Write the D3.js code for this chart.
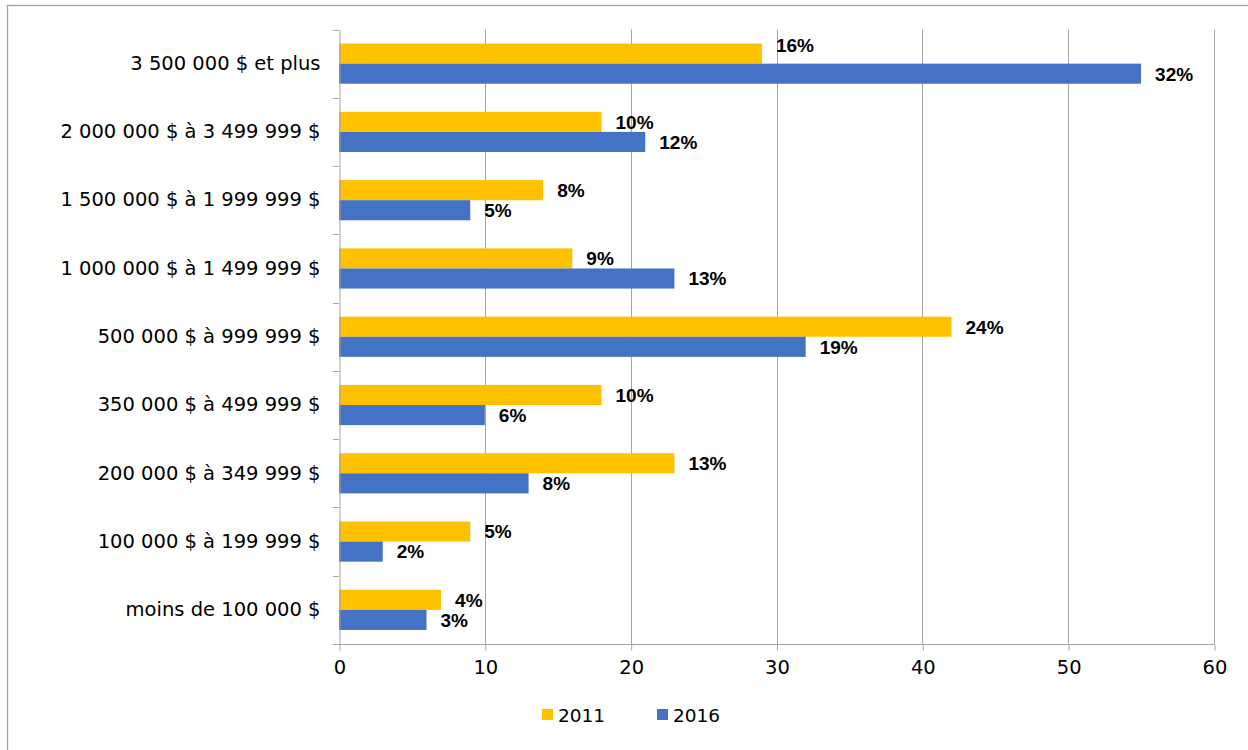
<!DOCTYPE html>
<html><head><meta charset="utf-8">
<script src="https://cdn.jsdelivr.net/npm/d3@7"></script>
<style>body{margin:0;background:#fff}</style>
</head><body>
<svg id="c" width="1248" height="750"></svg>
<script>
const categories = ["3 500 000 $ et plus","2 000 000 $ à 3 499 999 $","1 500 000 $ à 1 999 999 $","1 000 000 $ à 1 499 999 $","500 000 $ à 999 999 $","350 000 $ à 499 999 $","200 000 $ à 349 999 $","100 000 $ à 199 999 $","moins de 100 000 $"];
const values2011 = [29,18,14,16,42,18,23,9,7];
const values2016 = [55,21,9,23,32,10,13,3,6];
const labels2011 = ["16%","10%","8%","9%","24%","10%","13%","5%","4%"];
const labels2016 = ["32%","12%","5%","13%","19%","6%","8%","2%","3%"];
const seriesNames = ["2011","2016"];
const xTicks = [0,10,20,30,40,50,60];

const colors = ["#FFC000","#4472C4"];
const svg = d3.select("#c");
svg.append("rect").attr("x",7.5).attr("y",5.5).attr("width",1250).attr("height",760)
  .attr("fill","none").attr("stroke","#a0a0a0").attr("stroke-width",1.3);

const L=339, R=1214, T=29.5, B=644;
const x = d3.scaleLinear().domain([0,60]).range([L,R]);
const y = d3.scaleBand().domain(categories).range([T,B]);
const inner = d3.scaleBand().domain(seriesNames).range([0,y.bandwidth()]).paddingInner(0).paddingOuter(0.7);

// gridlines
svg.append("g").selectAll("line").data(xTicks.slice(1)).join("line")
  .attr("x1",d=>Math.round(x(d))+0.5).attr("x2",d=>Math.round(x(d))+0.5)
  .attr("y1",T).attr("y2",B).attr("stroke","#a6a6a6").attr("stroke-width",1);

// bars
const data = categories.map((c,i)=>({c, vals:[values2011[i],values2016[i]], labs:[labels2011[i],labels2016[i]]}));
const g = svg.append("g");
data.forEach((d,i)=>{
  seriesNames.forEach((s,k)=>{
    const yy = y(d.c)+inner(s);
    g.append("rect").attr("x",x(0)).attr("y",yy).attr("width",x(d.vals[k])-x(0)).attr("height",inner.bandwidth())
      .attr("fill",colors[k]);
    const shift = (i===0 && k===0) ? -8 : 0;
    g.append("text").attr("x",x(d.vals[k])+14).attr("y",yy+inner.bandwidth()/2+shift).attr("dy","0.36em")
      .attr("font-family","Liberation Sans, Arial, sans-serif").attr("font-weight","bold").attr("font-size",19)
      .attr("fill","#000").text(d.labs[k]);
  });
});

// y axis
const yAxis = d3.axisLeft(y).tickSize(0).tickPadding(19);
const ya = svg.append("g").attr("transform",`translate(${L+0.5},0)`).call(yAxis);
ya.select(".domain").attr("stroke","#a6a6a6");
ya.selectAll("text").attr("font-family","DejaVu Sans, Verdana, sans-serif").attr("font-size",19.5).attr("fill","#000");
// category boundary ticks
svg.append("g").selectAll("line").data(d3.range(categories.length+1)).join("line")
  .attr("x1",L-6).attr("x2",L).attr("y1",i=>Math.round(T+i*y.step())+0.5).attr("y2",i=>Math.round(T+i*y.step())+0.5)
  .attr("stroke","#a6a6a6");

// x axis
const xAxis = d3.axisBottom(x).tickValues(xTicks).tickSize(6).tickPadding(10).tickSizeOuter(0);
const xa = svg.append("g").attr("transform",`translate(0.5,${B+0.5})`).call(xAxis);
xa.select(".domain").attr("stroke","#a6a6a6").attr("d",`M${L-6},0H${R}`);
xa.selectAll(".tick line").attr("stroke","#a6a6a6");
xa.selectAll("text").attr("font-family","DejaVu Sans, Verdana, sans-serif").attr("font-size",19.5).attr("fill","#000");

// legend
const leg = svg.append("g");
const lx = [542,657];
seriesNames.forEach((s,k)=>{
  leg.append("rect").attr("x",lx[k]).attr("y",709).attr("width",11).attr("height",11).attr("fill",colors[k]);
  leg.append("text").attr("x",lx[k]+16).attr("y",715).attr("dy","0.36em")
    .attr("font-family","DejaVu Sans, Verdana, sans-serif").attr("font-size",18.5).attr("fill","#000").text(s);
});
</script>
</body></html>
